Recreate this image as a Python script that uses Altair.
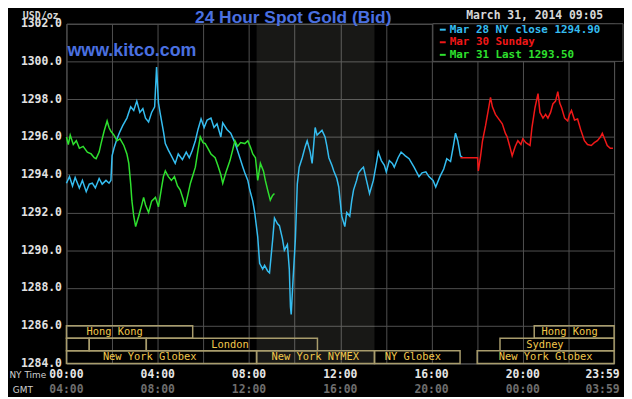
import altair as alt
import pandas as pd

# ---------------- data (minutes after NY midnight, price USD/oz) ----------------
cyan_min = [0,8,16,23,34,42,52,60,68,76, 86,94,104,112,117,120,125,133,141,148,
            159,169,177,185,193,201,208,216,224,232, 237,242,247,255,260,268,276,286,294,305,
            315,323,331,339,346,354,362,370,380,388, 396,406,411,422,432,443,456,464,469,477,
            482,490,495,503,508,516,521,529,534,542, 547,555,560,568,573,581,586,589,591,596,
            602,607,612,620,628,633,641,646,654,659, 664,672,680,685,690,698,703,711,716,724,
            732,737,745,750,755,763,768,776,781,789, 797,807,815,820,828,836,841,849,857,862,
            872,880,891,901,914,927,935,945,953,964, 971,982,992,1000,1010,1018,1023,1029,1036,1042]
cyan_val = [1293.55,1293.9,1293.4,1293.85,1293.3,1293.7,1293.1,1293.5,1293.55,1293.3,
            1293.8,1293.5,1293.7,1293.55,1293.7,1295.0,1295.4,1295.9,1296.3,1296.6,
            1297.0,1297.6,1297.4,1297.9,1297.3,1297.5,1297.0,1296.8,1297.3,1297.6,
            1299.7,1297.8,1297.2,1296.3,1295.65,1295.3,1295.0,1294.6,1295.1,1294.8,
            1295.2,1294.9,1295.3,1295.8,1296.4,1296.96,1296.5,1296.9,1297.0,1296.5,
            1296.7,1296.0,1296.75,1296.4,1296.2,1295.7,1294.9,1294.4,1294.1,1293.7,
            1293.2,1292.6,1292.0,1290.7,1289.3,1289.0,1289.2,1288.9,1288.8,1290.5,
            1291.7,1291.4,1291.3,1290.6,1290.0,1290.3,1289.0,1287.0,1286.6,1288.5,
            1290.6,1293.5,1294.4,1294.9,1295.5,1295.8,1295.2,1294.6,1296.5,1296.1,
            1296.2,1296.35,1296.0,1295.5,1294.9,1294.5,1294.2,1293.8,1293.35,1291.8,
            1291.25,1292.0,1291.8,1292.6,1293.2,1293.7,1294.1,1294.3,1294.4,1293.7,
            1293.0,1293.7,1294.6,1295.2,1294.75,1294.5,1294.15,1294.75,1294.6,1294.4,
            1294.9,1295.2,1295.0,1294.85,1294.4,1293.9,1294.1,1294.15,1293.9,1293.7,
            1293.35,1293.9,1294.3,1294.85,1294.7,1295.6,1296.2,1295.8,1295.0,1294.9]

red_min = [1036,1081,1083,1089,1094,1102,1109,1115,1120,1128,
           1135,1146,1154,1159,1167,1172,1180,1187,1195,1200,
           1208,1219,1224,1232,1240,1245,1253,1260,1266,1273,
           1279,1286,1292,1297,1302,1310,1318,1323,1328,1336,
           1344,1352,1362,1370,1380,1388,1396,1404,1409,1417,
           1422,1430,1437]
red_val = [1294.9,1294.9,1294.2,1295.0,1295.8,1296.6,1297.4,1298.1,1297.6,1297.2,
           1297.0,1296.7,1296.2,1296.0,1295.4,1295.0,1295.5,1295.8,1295.6,1295.9,
           1295.7,1295.55,1296.5,1297.55,1298.3,1297.3,1297.0,1297.2,1297.0,1297.3,
           1297.75,1297.9,1298.4,1297.8,1297.55,1297.0,1296.85,1297.2,1297.4,1296.9,
           1296.95,1296.4,1295.8,1295.6,1295.55,1295.7,1295.8,1296.0,1296.2,1295.8,
           1295.55,1295.4,1295.4]

green_min = [0,5,10,18,26,34,44,55,65,73, 78,86,91,99,107,112,117,125,133,141,
             151,159,164,169,172,177,182,187,190,198, 203,208,216,224,234,242,250,255,260,268,
             276,284,292,299,307,312,320,326,333,339, 346,352,359,365,372,380,391,398,406,411,
             419,430,437,443,450,458,469,477,484,490, 497,503,510,518,523,529,536,542,547]
green_val = [1296.0,1295.6,1296.1,1295.6,1295.8,1295.4,1295.5,1295.2,1295.1,1294.9,
             1294.85,1295.2,1295.65,1296.3,1296.85,1296.5,1296.3,1296.1,1295.8,1295.9,
             1295.55,1295.1,1294.6,1293.5,1292.65,1291.8,1291.25,1291.6,1291.8,1292.4,
             1292.8,1292.4,1292.0,1292.6,1292.8,1292.3,1293.3,1293.9,1294.2,1293.9,
             1293.7,1293.9,1293.4,1293.2,1292.7,1292.3,1293.0,1293.55,1294.0,1294.4,
             1295.3,1296.0,1295.7,1295.65,1295.4,1295.1,1294.9,1294.5,1294.0,1293.55,
             1294.1,1294.75,1295.3,1295.8,1295.5,1295.7,1295.65,1295.8,1295.45,1295.1,
             1294.9,1293.7,1294.6,1294.2,1293.7,1293.2,1292.65,1292.9,1293.0]

# market sessions (boxes) : start / end minute, row (1 = top)
sess_start = [0, 1230, 0, 60, 210, 1140, 0, 500, 810, 1080]
sess_end = [332, 1440, 60, 210, 660, 1440, 500, 810, 1035, 1440]
sess_row = [1, 1, 2, 2, 2, 2, 3, 3, 3, 3]
row_lo = {1: 1285.33, 2: 1284.67, 3: 1284.0}
row_hi = {1: 1286.0, 2: 1285.33, 3: 1284.67}

lab_text = ["Hong Kong", "London", "New York Globex", "New York NYMEX",
            "NY Globex", "New York Globex", "Sydney", "Hong Kong"]
lab_min = [127, 430, 219, 654, 911, 1260, 1258, 1323]
lab_row = [1, 2, 3, 3, 3, 3, 2, 1]

band_start = [500]
band_end = [810]

ny_labels = ["00:00", "04:00", "08:00", "12:00", "16:00", "20:00"]
gmt_labels = ["04:00", "08:00", "12:00", "16:00", "20:00", "00:00"]
tick_min = [0, 240, 480, 720, 960, 1200]
last_ny, last_gmt, last_min = "23:59", "03:59", 1439

legend_text = ["Mar 28 NY close 1294.90", "Mar 30 Sunday", "Mar 31 Last 1293.50"]
legend_color = ["#35bdf0", "#f01818", "#2ee02e"]

y_ticks = [1284, 1286, 1288, 1290, 1292, 1294, 1296, 1298, 1300, 1302]
x_grid = [0, 120, 240, 360, 480, 600, 720, 840, 960, 1080, 1200, 1320, 1440]

# ---------------- chart ----------------
W, H = 553, 343
MONO = "DejaVu Sans Mono"

xscale = alt.Scale(domain=[0, 1440], nice=False, zero=False)
yscale = alt.Scale(domain=[1284, 1302], nice=False, zero=False)
xaxis = alt.Axis(values=x_grid, labels=False, ticks=False, domain=False, grid=True,
                 gridColor="#505050", gridWidth=1, title=None)
yaxis = alt.Axis(values=y_ticks, format=".1f", ticks=False, domain=False, grid=True,
                 gridColor="#505050", gridWidth=1, title=None, labelFont=MONO,
                 labelFontWeight="bold", labelFontSize=11.5, labelColor="#e2e2e2",
                 labelPadding=5)


def X(f):
    return alt.X(f"{f}:Q", scale=xscale, axis=xaxis)


def Y(f):
    return alt.Y(f"{f}:Q", scale=yscale, axis=yaxis)


band_df = pd.DataFrame({"start": band_start, "end": band_end, "lo": [1284], "hi": [1302]})
band = alt.Chart(band_df).mark_rect(fill="#e8e8d8", opacity=0.1).encode(
    x=X("start"), x2="end", y=Y("hi"), y2="lo")

sess_df = pd.DataFrame({"start": sess_start, "end": sess_end, "row": sess_row})
sess_df["lo"] = sess_df["row"].map(row_lo)
sess_df["hi"] = sess_df["row"].map(row_hi)
boxes = alt.Chart(sess_df).mark_rect(fill="#000000", fillOpacity=0, stroke="#a89c6c",
                                     strokeWidth=1.5).encode(
    x=X("start"), x2="end", y=Y("hi"), y2="lo")

lab_df = pd.DataFrame({"minute": lab_min, "row": lab_row, "text": lab_text})
lab_df["price"] = (lab_df["row"].map(row_lo) + lab_df["row"].map(row_hi)) / 2
sess_labels = alt.Chart(lab_df).mark_text(font=MONO, fontSize=10.5, color="#f2c84c",
                                          baseline="middle", align="center").encode(
    x=X("minute"), y=Y("price"), text="text:N")

lines = []
for mins, vals, col in [(cyan_min, cyan_val, legend_color[0]),
                        (red_min, red_val, legend_color[1]),
                        (green_min, green_val, legend_color[2])]:
    df = pd.DataFrame({"minute": mins, "price": vals})
    lines.append(alt.Chart(df).mark_line(color=col, strokeWidth=1.5).encode(
        x=X("minute"), y=Y("price"), order="minute:Q"))

# legend box
leg_box = alt.Chart(pd.DataFrame({"a": [0]})).mark_rect(
    fill="#000000", stroke="#555555", strokeWidth=1).encode(
    x=alt.value(370), x2=alt.value(562), y=alt.value(0), y2=alt.value(38))
leg_layers = []
for i, (t, c) in enumerate(zip(legend_text, legend_color)):
    d = pd.DataFrame({"t": [t]})
    yv = 6 + i * 12.7
    leg_layers.append(alt.Chart(d).mark_text(font=MONO, fontWeight="bold", fontSize=11,
                                             color=c, align="left", baseline="middle").encode(
        x=alt.value(387), y=alt.value(yv), text="t:N"))
    leg_layers.append(alt.Chart(d).mark_rule(color=c, strokeWidth=2).encode(
        x=alt.value(377), x2=alt.value(383), y=alt.value(yv)))

# x tick labels
tk_df = pd.DataFrame({"minute": tick_min, "ny": ny_labels, "gmt": gmt_labels})
ny_text = alt.Chart(tk_df).mark_text(font=MONO, fontWeight="bold", fontSize=11.5,
                                     color="#e6e6e6", baseline="middle").encode(
    x=X("minute"), y=alt.value(355), text="ny:N")
gmt_text = alt.Chart(tk_df).mark_text(font=MONO, fontWeight="bold", fontSize=11.5,
                                      color="#6e6e6e", baseline="middle").encode(
    x=X("minute"), y=alt.value(370), text="gmt:N")
last_df = pd.DataFrame({"minute": [last_min], "ny": [last_ny], "gmt": [last_gmt]})
ny_last = alt.Chart(last_df).mark_text(font=MONO, fontWeight="bold", fontSize=11.5,
                                       color="#e6e6e6", baseline="middle", align="right",
                                       dx=6).encode(
    x=X("minute"), y=alt.value(355), text="ny:N")
gmt_last = alt.Chart(last_df).mark_text(font=MONO, fontWeight="bold", fontSize=11.5,
                                        color="#6e6e6e", baseline="middle", align="right",
                                        dx=6).encode(
    x=X("minute"), y=alt.value(370), text="gmt:N")

one = pd.DataFrame({"a": [0]})
ny_time = alt.Chart(one).mark_text(font="DejaVu Sans", fontSize=9, color="#d0d0d0",
                                   baseline="middle", align="center", text="NY Time").encode(
    x=alt.value(-39), y=alt.value(355))
gmt_lbl = alt.Chart(one).mark_text(font="DejaVu Sans", fontSize=9, color="#d0d0d0",
                                   baseline="middle", align="center", text="GMT").encode(
    x=alt.value(-44), y=alt.value(370))
usd = alt.Chart(one).mark_text(font=MONO, fontWeight="bold", fontSize=10, color="#d8d8d8",
                               baseline="middle", align="center", text="USD/oz").encode(
    x=alt.value(-26), y=alt.value(-8))
title = alt.Chart(one).mark_text(font="Liberation Sans", fontWeight="bold", fontSize=17.5,
                                 color="#4a70e0", baseline="alphabetic", align="center",
                                 text="24 Hour Spot Gold (Bid)").encode(
    x=alt.value(229), y=alt.value(-1))
kitco = alt.Chart(one).mark_text(font="Liberation Sans", fontWeight="bold", fontSize=18,
                                 color="#4a70e0", baseline="alphabetic", align="left",
                                 text="www.kitco.com").encode(
    x=alt.value(1), y=alt.value(33))
date = alt.Chart(one).mark_text(font=MONO, fontWeight="bold", fontSize=11.5, color="#d8d8d8",
                                baseline="middle", align="right",
                                text="March 31, 2014 09:05").encode(
    x=alt.value(542), y=alt.value(-8))

chart = alt.layer(
    band, boxes, sess_labels, *lines, leg_box, *leg_layers,
    ny_text, gmt_text, ny_last, gmt_last, ny_time, gmt_lbl, usd, title, kitco, date
).properties(
    width=W, height=H,
    padding={"left": 59, "top": 14, "right": 10, "bottom": 32},
    autosize=alt.AutoSizeParams(type="none"),
    background="#000000",
).configure_view(stroke="#555555", strokeWidth=1, fill="#000000")

chart.save("out.html", embed_options={"renderer": "svg", "actions": False})
